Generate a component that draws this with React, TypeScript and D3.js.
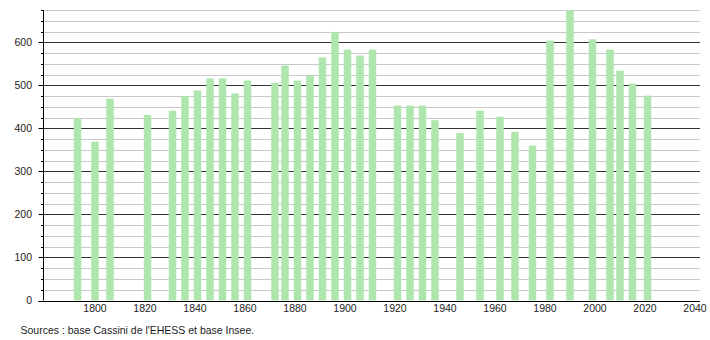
import React from "react";
import * as d3 from "d3";

const years = [1793, 1800, 1806, 1821, 1831, 1836, 1841, 1846, 1851, 1856, 1861, 1872, 1876, 1881, 1886, 1891, 1896, 1901, 1906, 1911, 1921, 1926, 1931, 1936, 1946, 1954, 1962, 1968, 1975, 1982, 1990, 1999, 2006, 2010, 2015, 2021];
const population = [424, 369, 469, 431, 441, 475, 488, 516, 516, 481, 511, 506, 546, 511, 523, 565, 624, 583, 569, 583, 453, 453, 453, 419, 389, 441, 427, 392, 360, 604, 675, 607, 583, 534, 504, 476];
const xTickYears = [1800, 1820, 1840, 1860, 1880, 1900, 1920, 1940, 1960, 1980, 2000, 2020, 2040];
const yMajorTicks = [0, 100, 200, 300, 400, 500, 600];
const yMinorTicks = d3.range(25, 700, 25).filter((v) => v % 100 !== 0);
const sourceText = "Sources : base Cassini de l'EHESS et base Insee.";

const W = 710;
const H = 340;
const left = 43.5;
const right = 700;
const top = 10;
const bottom = 300.5;
const barYears = 3;

export default function App() {
  const x = d3.scaleLinear().domain([1779.4, 2042]).range([left, right]);
  const y = d3.scaleLinear().domain([0, 675]).range([bottom, top]);
  const bw = x(1800 + barYears) - x(1800);
  const font = "'Liberation Sans', Arial, sans-serif";
  return (
    <div style={{ position: "absolute", left: 0, top: 0 }}>
      <svg width={W} height={H} style={{ display: "block", background: "#fff" }}>
        {yMinorTicks.map((v) => (
          <g key={"mi" + v}>
            <line x1={left} x2={right} y1={Math.round(y(v)) + 0.5} y2={Math.round(y(v)) + 0.5} stroke="#c8c8c8" strokeWidth={1} />
            <line x1={left - 2.5} x2={left} y1={Math.round(y(v)) + 0.5} y2={Math.round(y(v)) + 0.5} stroke="#000" strokeWidth={1} />
          </g>
        ))}
        {yMajorTicks.filter((v) => v > 0).map((v) => (
          <line key={"ma" + v} x1={left} x2={right} y1={Math.round(y(v)) + 0.5} y2={Math.round(y(v)) + 0.5} stroke="#333" strokeWidth={1} />
        ))}
        {years.map((yr, i) => (
          <rect key={yr} x={x(yr) - bw / 2} y={y(population[i])} width={bw} height={y(0) - y(population[i])} fill="#aee6ae" />
        ))}
        <line x1={left} x2={left} y1={top} y2={bottom} stroke="#000" strokeWidth={1} />
        <line x1={left - 5} x2={right} y1={Math.round(y(0)) + 0.5} y2={Math.round(y(0)) + 0.5} stroke="#000" strokeWidth={1} />
        {yMajorTicks.map((v) => (
          <g key={"t" + v}>
            <line x1={left - 5} x2={left} y1={Math.round(y(v)) + 0.5} y2={Math.round(y(v)) + 0.5} stroke="#000" strokeWidth={1} />
            <text x={32} y={y(v)} dy="0.35em" textAnchor="end" fontFamily={font} fontSize={10.5} fill="#222">{v}</text>
          </g>
        ))}
        {xTickYears.map((yr) => (
          <text key={"x" + yr} x={x(yr)} y={312} textAnchor="middle" fontFamily={font} fontSize={10.5} fill="#222">{yr}</text>
        ))}
        <text x={20.5} y={334} fontFamily={font} fontSize={10.5} fill="#222">{sourceText}</text>
      </svg>
    </div>
  );
}
